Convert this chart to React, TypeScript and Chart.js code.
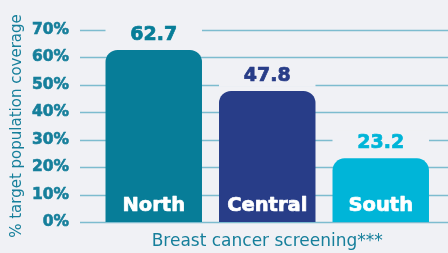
import React, { useEffect, useRef } from "react";
import { Chart, registerables } from "chart.js";

Chart.register(...registerables);

const categories = ["North", "Central", "South"];
const coverage = [62.7, 47.8, 23.2];
const barColors = ["#077d98", "#283d88", "#00b5d8"];
const yTicks = [0, 10, 20, 30, 40, 50, 60, 70];
const yTitle = "% target population coverage";
const xTitle = "Breast cancer screening***";

const BG = "#f0f1f5";
const TEAL = "#167f9b";
const GRID = "#7dbccf";

const decorPlugin = {
  id: "decor",
  beforeDatasetsDraw(chart: any) {
    const { ctx, scales, width } = chart;
    const y = scales.y;
    ctx.save();
    ctx.strokeStyle = GRID;
    ctx.lineWidth = 1.5;
    y.ticks.forEach((t: any) => {
      const py = Math.round(y.getPixelForValue(t.value)) + 0.5;
      ctx.beginPath();
      ctx.moveTo(80, py);
      ctx.lineTo(width, py);
      ctx.stroke();
    });
    ctx.restore();
  },
  afterDatasetsDraw(chart: any) {
    const { ctx } = chart;
    const meta = chart.getDatasetMeta(0);
    ctx.save();
    ctx.lineJoin = "round";
    meta.data.forEach((bar: any, i: number) => {
      const ly = bar.y - 16;
      ctx.fillStyle = BG;
      ctx.fillRect(bar.x - bar.width / 2, ly - 12, bar.width, 24);
      ctx.textAlign = "center";
      ctx.textBaseline = "middle";
      ctx.font = "bold 19px 'DejaVu Sans'";
      ctx.fillStyle = barColors[i];
      ctx.strokeStyle = barColors[i];
      ctx.lineWidth = 0.7;
      ctx.fillText(String(coverage[i]), bar.x, ly + 1);
      ctx.strokeText(String(coverage[i]), bar.x, ly + 1);
      const cy = chart.scales.y.getPixelForValue(0) - 16;
      ctx.font = "bold 19.5px 'DejaVu Sans'";
      ctx.fillStyle = "#ffffff";
      ctx.strokeStyle = "#ffffff";
      ctx.fillText(categories[i], bar.x, cy);
      ctx.strokeText(categories[i], bar.x, cy);
    });
    ctx.restore();
  },
};

export default function App() {
  const ref = useRef<HTMLCanvasElement | null>(null);
  useEffect(() => {
    if (!ref.current) return;
    const chart = new Chart(ref.current, {
      type: "bar",
      data: {
        labels: categories,
        datasets: [
          {
            data: coverage,
            backgroundColor: barColors,
            borderRadius: { topLeft: 12, topRight: 12, bottomLeft: 0, bottomRight: 0 },
            borderSkipped: "bottom",
            categoryPercentage: 1,
            barPercentage: 0.85,
          },
        ],
      },
      options: {
        animation: false,
        responsive: true,
        maintainAspectRatio: false,
        layout: { padding: { top: 30, right: 10.5, left: 0, bottom: 0 } },
        plugins: { legend: { display: false }, tooltip: { enabled: false } },
        scales: {
          x: {
            grid: { display: false },
            border: { display: false },
            ticks: { display: false },
            title: {
              display: true,
              text: xTitle,
              color: TEAL,
              font: { family: "'DejaVu Sans'", size: 17 },
              padding: { top: 0, bottom: 1 },
            },
            afterFit: (s: any) => {
              s.height = 31;
              s.paddingLeft = 0;
              s.paddingRight = 0;
            },
          },
          y: {
            min: 0,
            max: 70,
            afterBuildTicks: (s: any) => {
              s.ticks = yTicks.map((v) => ({ value: v }));
            },
            grid: { display: false, drawTicks: false },
            border: { display: false },
            ticks: {
              padding: 28,
              color: TEAL,
              textStrokeColor: TEAL,
              textStrokeWidth: 0.6,
              font: { family: "'DejaVu Sans'", size: 15.5, weight: "bold" },
              callback: (v: any) => v + "%",
            },
            title: {
              display: true,
              text: yTitle,
              color: TEAL,
              font: { family: "'DejaVu Sans'", size: 15 },
              padding: { top: 8, bottom: 0 },
            },
            afterFit: (s: any) => {
              s.width = 97;
              s.paddingTop = 0;
              s.paddingBottom = 0;
            },
          },
        },
      },
      plugins: [decorPlugin],
    });
    return () => chart.destroy();
  }, []);
  return (
    <div
      style={{
        position: "fixed",
        left: 0,
        top: 0,
        width: 448,
        height: 253,
        background: BG,
      }}
    >
      <canvas ref={ref} />
    </div>
  );
}
